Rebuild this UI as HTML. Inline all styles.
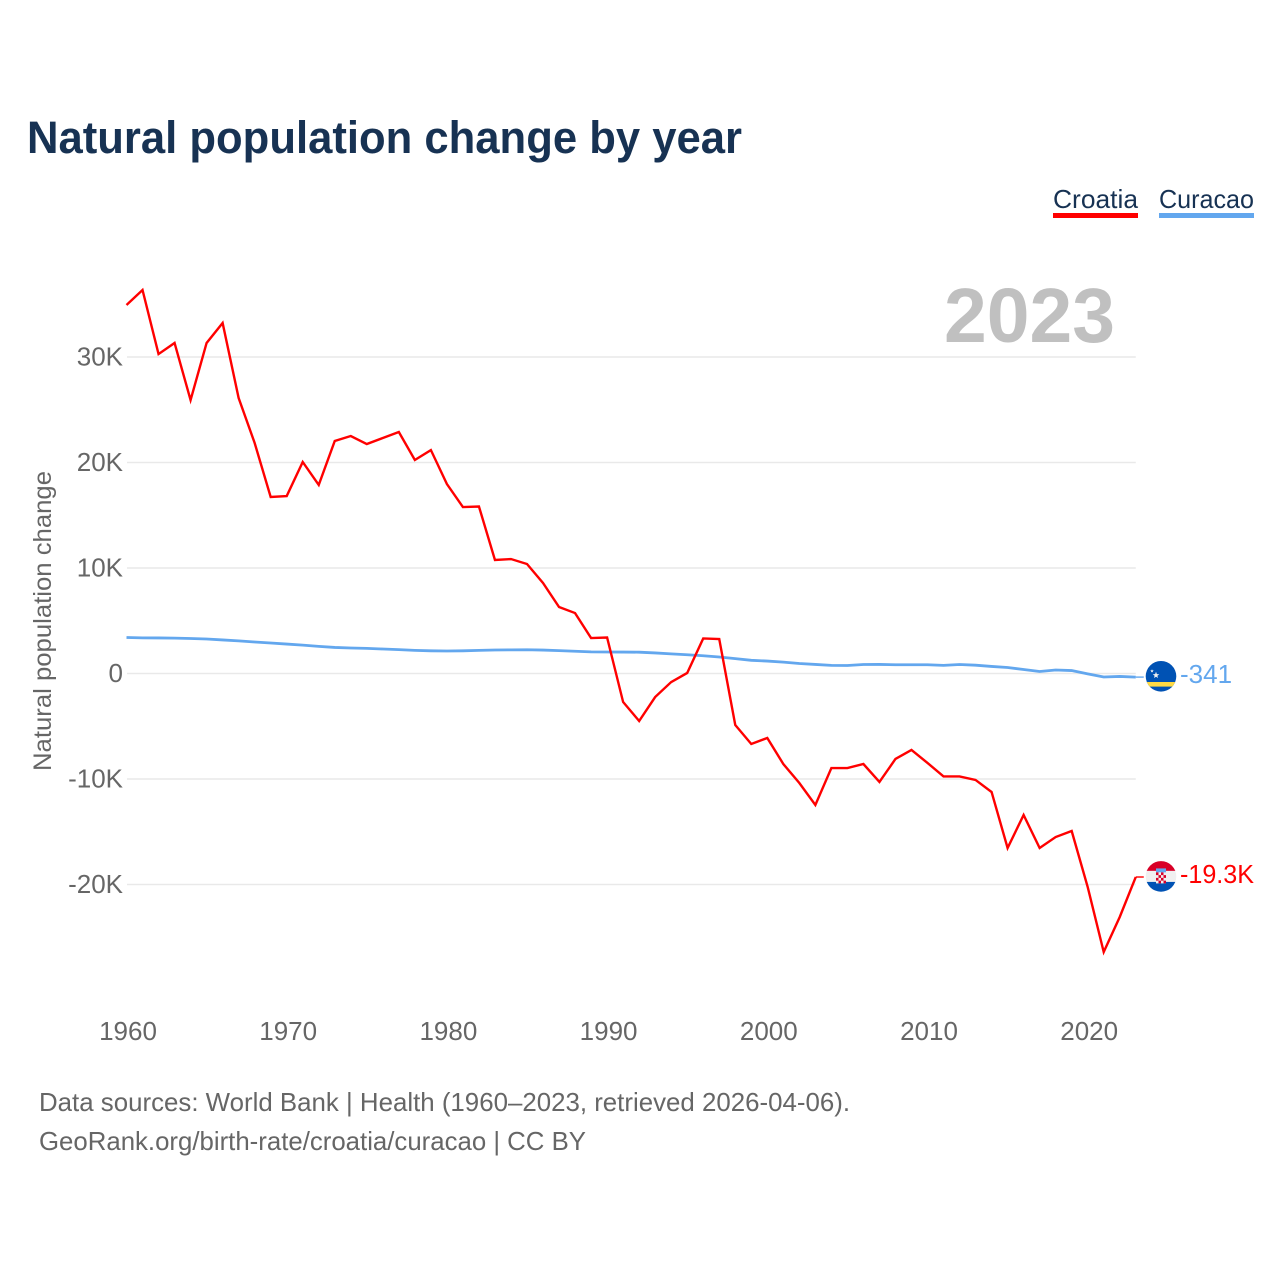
<!DOCTYPE html>
<html lang="en">
<head>
<meta charset="utf-8">
<title>Natural population change by year</title>
<style>
html,body{margin:0;padding:0;background:#fff;width:1280px;height:1280px;overflow:hidden}
svg{display:block}
text{font-family:"Liberation Sans",Arial,sans-serif}
</style>
</head>
<body>
<svg id="chart" xmlns="http://www.w3.org/2000/svg" width="1280" height="1280" viewBox="0 0 1280 1280">
  <rect x="0" y="0" width="1280" height="1280" fill="#fff"/>
  <text x="27" y="153" font-size="45" font-weight="700" fill="#173253" textLength="715" lengthAdjust="spacingAndGlyphs">Natural population change by year</text>

  <g>
    <text x="1053" y="208" font-size="26" fill="#173253" textLength="85" lengthAdjust="spacingAndGlyphs">Croatia</text>
    <rect x="1053" y="213" width="85" height="5" fill="#ff0000"/>
  </g>
  <g>
    <text x="1159" y="208" font-size="26" fill="#173253" textLength="95" lengthAdjust="spacingAndGlyphs">Curacao</text>
    <rect x="1159" y="213" width="95" height="5" fill="#63a7ee"/>
  </g>

  <text x="944" y="342" font-size="77" font-weight="700" fill="#c0c0c0" textLength="171" lengthAdjust="spacingAndGlyphs">2023</text>
  <text transform="translate(51,771) rotate(-90)" x="0" y="0" font-size="25" fill="#666" textLength="300" lengthAdjust="spacingAndGlyphs">Natural population change</text>

  <g id="grid"></g>
  <g id="yticks"></g>
  <g id="xticks"></g>
  <g id="series"></g>

  <defs>
    <clipPath id="flag-clip"><circle cx="0" cy="0" r="15.3"/></clipPath>
  </defs>
  <g id="flag-curacao">
    <g clip-path="url(#flag-clip)">
      <rect x="-16" y="-16" width="32" height="32" fill="#0052b4"/>
      <rect x="-16" y="5.7" width="32" height="4.6" fill="#ffda44"/>
      <polygon points="-5,-4.5 -4.1,-2.2 -1.7,-2.1 -3.6,-0.6 -3,1.7 -5,0.4 -7,1.7 -6.4,-0.6 -8.3,-2.1 -5.9,-2.2" fill="#f0f0f0"/>
      <polygon points="-9,-7 -8.5,-5.9 -7.2,-5.8 -8.2,-5 -7.9,-3.8 -9,-4.5 -10.1,-3.8 -9.8,-5 -10.8,-5.8 -9.5,-5.9" fill="#f0f0f0"/>
    </g>
  </g>
  <g id="flag-croatia">
    <g clip-path="url(#flag-clip)">
      <rect x="-16" y="-16" width="32" height="10.5" fill="#d80027"/>
      <rect x="-16" y="-5.5" width="32" height="11" fill="#f0f0f0"/>
      <rect x="-16" y="5.5" width="32" height="11" fill="#0052b4"/>
      <rect x="-5" y="-8" width="10" height="4" fill="#63a7ee"/>
      <rect x="-5" y="-4" width="10" height="11" fill="#f0f0f0"/>
      <path d="M-5 -4h2.5v2.75h-2.5zM0 -4h2.5v2.75h-2.5zM-2.5 -1.25h2.5v2.75h-2.5zM2.5 -1.25h2.5v2.75h-2.5zM-5 1.5h2.5v2.75h-2.5zM0 1.5h2.5v2.75h-2.5zM-2.5 4.25h2.5v2.75h-2.5zM2.5 4.25h2.5v2.75h-2.5z" fill="#d80027"/>
    </g>
  </g>
  <text id="label-curacao" x="1180" font-size="26" fill="#63a7ee"></text>
  <text id="label-croatia" x="1180" font-size="26" fill="#ff0000" textLength="74" lengthAdjust="spacingAndGlyphs"></text>

  <text x="39" y="1111" font-size="26" fill="#666" textLength="811" lengthAdjust="spacingAndGlyphs">Data sources: World Bank | Health (1960–2023, retrieved 2026-04-06).</text>
  <text x="39" y="1150" font-size="26" fill="#666" textLength="547" lengthAdjust="spacingAndGlyphs">GeoRank.org/birth-rate/croatia/curacao | CC BY</text>
</svg>
<script>
const firstYear = 1960;
const croatiaValues = [34930,36350,30280,31330,25920,31330,33220,26110,21850,16730,16820,20050,17870,22040,22510,21750,22320,22890,20240,21180,17960,15780,15830,10760,10850,10380,8580,6300,5730,3360,3410,-2700,-4500,-2230,-810,50,3320,3270,-4880,-6680,-6110,-8580,-10380,-12460,-8960,-8960,-8580,-10280,-8100,-7250,-8480,-9760,-9760,-10090,-11230,-16540,-13410,-16540,-15500,-14930,-20240,-26400,-23080,-19290];
const curacaoValues = [3410,3380,3370,3350,3320,3270,3180,3090,2990,2890,2790,2690,2570,2470,2420,2380,2320,2260,2190,2150,2130,2150,2190,2230,2240,2250,2220,2170,2110,2050,2040,2030,2020,1950,1860,1780,1680,1560,1410,1250,1180,1080,950,860,770,760,850,860,830,830,830,770,850,790,670,570,380,190,330,280,-30,-330,-280,-341];
const yTickValues = [30000,20000,10000,0,-10000,-20000];
const yTickLabels = ["30K","20K","10K","0","-10K","-20K"];
const xTickYears = [1960,1970,1980,1990,2000,2010,2020];
const croatiaEndLabel = "-19.3K";
const curacaoEndLabel = "-341";

const NS = "http://www.w3.org/2000/svg";
const xOf = function (year) { return 126.5 + (year - 1960) * 16.02; };
const yOf = function (value) { return 673.5 - value * 0.01055; };
const plotRight = xOf(2023);

function make(tag, parentId) {
  const el = document.createElementNS(NS, tag);
  document.getElementById(parentId).appendChild(el);
  return el;
}

yTickValues.forEach(function (v, i) {
  const line = make("line", "grid");
  
  
  line.setAttribute("x1", xOf(firstYear) + 0.5);
  line.setAttribute("x2", plotRight);
  line.setAttribute("y1", yOf(v));
  line.setAttribute("y2", yOf(v));
  line.setAttribute("stroke", "#e9e9e9");
  line.setAttribute("stroke-width", "1.4");

  const label = make("text", "yticks");
  
  
  label.setAttribute("x", 123);
  label.setAttribute("y", yOf(v) + 8.5);
  label.setAttribute("text-anchor", "end");
  label.setAttribute("font-size", "26");
  label.setAttribute("fill", "#666");
  label.textContent = yTickLabels[i];
});

xTickYears.forEach(function (year) {
  const label = make("text", "xticks");
  
  
  label.setAttribute("x", xOf(year) + 1.5);
  label.setAttribute("y", 1040);
  label.setAttribute("text-anchor", "middle");
  label.setAttribute("font-size", "26");
  label.setAttribute("fill", "#666");
  label.textContent = year;
});

function pathFor(values) {
  return values.map(function (v, i) {
    return (i ? "L" : "M") + xOf(firstYear + i).toFixed(2) + " " + yOf(v).toFixed(2);
  }).join("");
}

const curacaoLine = make("path", "series");


curacaoLine.setAttribute("d", pathFor(curacaoValues));
curacaoLine.setAttribute("fill", "none");
curacaoLine.setAttribute("stroke", "#63a7ee");
curacaoLine.setAttribute("stroke-width", "2.8");

const croatiaLine = make("path", "series");


croatiaLine.setAttribute("d", pathFor(croatiaValues));
croatiaLine.setAttribute("fill", "none");
croatiaLine.setAttribute("stroke", "#ff0000");
croatiaLine.setAttribute("stroke-width", "2.4");

const curacaoEnd = yOf(curacaoValues[curacaoValues.length - 1]);
const croatiaEnd = yOf(croatiaValues[croatiaValues.length - 1]);

const curacaoLead = make("line", "series");


curacaoLead.setAttribute("x1", plotRight);
curacaoLead.setAttribute("x2", plotRight + 8);
curacaoLead.setAttribute("y1", curacaoEnd);
curacaoLead.setAttribute("y2", curacaoEnd);
curacaoLead.setAttribute("stroke", "#63a7ee");
curacaoLead.setAttribute("stroke-width", "1.4");

const croatiaLead = make("line", "series");


croatiaLead.setAttribute("x1", plotRight);
croatiaLead.setAttribute("x2", plotRight + 8);
croatiaLead.setAttribute("y1", croatiaEnd);
croatiaLead.setAttribute("y2", croatiaEnd);
croatiaLead.setAttribute("stroke", "#ff0000");
croatiaLead.setAttribute("stroke-width", "1.4");

document.getElementById("flag-curacao").setAttribute("transform", "translate(1161," + (curacaoEnd - 0.8) + ")");
document.getElementById("flag-croatia").setAttribute("transform", "translate(1161," + (croatiaEnd - 0.6) + ")");

const curacaoLabel = document.getElementById("label-curacao");
curacaoLabel.setAttribute("y", curacaoEnd + 6);
curacaoLabel.textContent = curacaoEndLabel;

const croatiaLabel = document.getElementById("label-croatia");
croatiaLabel.setAttribute("y", croatiaEnd + 6);
croatiaLabel.textContent = croatiaEndLabel;
</script>
</body>
</html>
